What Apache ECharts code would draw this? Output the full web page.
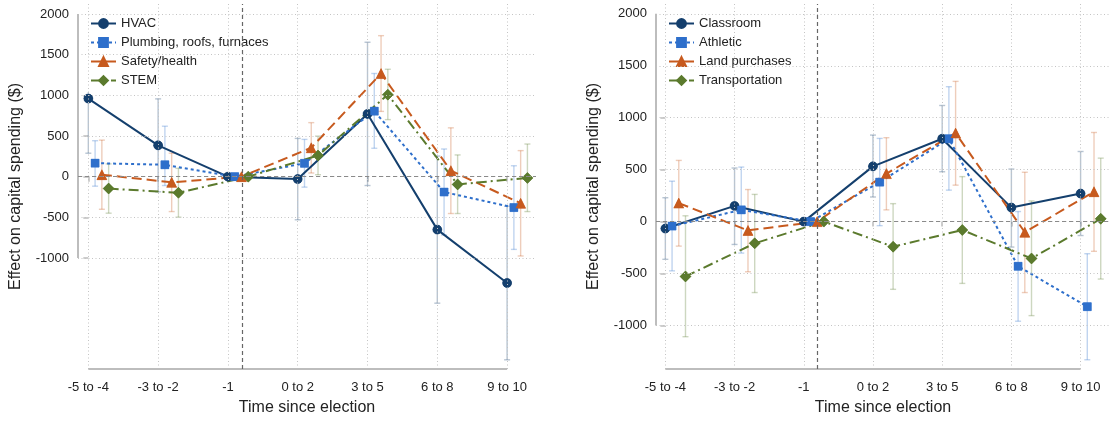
<!DOCTYPE html>
<html>
<head>
<meta charset="utf-8">
<script src="https://cdn.jsdelivr.net/npm/echarts@6/dist/echarts.min.js"></script>
<style>html,body{margin:0;padding:0;background:#fff}#c{width:1110px;height:421px}</style>
</head>
<body>
<div id="c"></div>
<script>
// ---- data ----
const categories = ['-5 to -4', '-3 to -2', '-1', '0 to 2', '3 to 5', '6 to 8', '9 to 10'];
const yTicks = [-1000, -500, 0, 500, 1000, 1500, 2000];

// Left panel
const hvac      = [960, 385, 0, -30, 771, -651, -1307];
const hvacLo    = [288, -186, 0, -530, -109, -1555, -2251];
const hvacHi    = [1640, 956, 0, 470, 1652, 253, -363];
const plumbing   = [166, 146, 0, 164, 805, -189, -380];
const plumbingLo = [-117, -109, 0, -129, 349, -717, -894];
const plumbingHi = [442, 620, 0, 458, 1268, 340, 134];
const safety   = [24, -70, 0, 355, 1267, 74, -327];
const safetyLo = [-401, -429, 0, 45, 802, -453, -975];
const safetyHi = [449, 288, 0, 664, 1733, 600, 320];
const stem   = [-146, -198, 0, 260, 1008, -95, -15];
const stemLo = [-449, -498, 0, 24, 701, -453, -429];
const stemHi = [157, 102, 0, 498, 1320, 267, 401];

// Right panel
const classroom   = [-67, 151, 0, 532, 798, 135, 270];
const classroomLo = [-363, -220, 0, 237, 480, -245, -134];
const classroomHi = [230, 516, 0, 833, 1118, 506, 675];
const athletic   = [-43, 113, 0, 380, 798, -430, -819];
const athleticLo = [-474, -303, 0, -39, 303, -959, -1330];
const athleticHi = [389, 525, 0, 801, 1299, 97, -309];
const land   = [178, -85, 0, 462, 852, -102, 288];
const landLo = [-236, -483, 0, 113, 351, -683, -286];
const landHi = [589, 309, 0, 808, 1350, 475, 858];
const transport   = [-528, -209, 0, -242, -81, -355, 27];
const transportLo = [-1108, -683, 0, -652, -595, -905, -553];
const transportHi = [56, 262, 0, 173, 433, 199, 611];

// ---- styling ----
const NAVY = '#143f6d', BLUE = '#2e6fcb', ORANGE = '#c75a1e', OLIVE = '#5b7a2d';
const FONT = 'Liberation Sans, Arial, Helvetica, sans-serif';
const DODGE = 0.097;
const refX = 2.2;       // election timing reference line position
const panels = [
  { xmin: -0.148, xmax: 6.414, ymin: -2364, ymax: 2122, left: 78, width: 458 },
  { xmin: -0.135, xmax: 6.425, ymin: -1419, ymax: 2095, left: 656, width: 457 }
];
const seriesDefs = [
  [
    { name: 'HVAC', v: hvac, lo: hvacLo, hi: hvacHi, color: NAVY, symbol: 'circle', size: 9, dash: 'solid' },
    { name: 'Plumbing, roofs, furnaces', v: plumbing, lo: plumbingLo, hi: plumbingHi, color: BLUE, symbol: 'rect', size: 8, dash: [3, 3] },
    { name: 'Safety/health', v: safety, lo: safetyLo, hi: safetyHi, color: ORANGE, symbol: 'triangle', size: 10, dash: [10, 5] },
    { name: 'STEM', v: stem, lo: stemLo, hi: stemHi, color: OLIVE, symbol: 'diamond', size: 11, dash: [10, 4, 2, 4] }
  ],
  [
    { name: 'Classroom', v: classroom, lo: classroomLo, hi: classroomHi, color: NAVY, symbol: 'circle', size: 9, dash: 'solid' },
    { name: 'Athletic', v: athletic, lo: athleticLo, hi: athleticHi, color: BLUE, symbol: 'rect', size: 8, dash: [3, 3] },
    { name: 'Land purchases', v: land, lo: landLo, hi: landHi, color: ORANGE, symbol: 'triangle', size: 10, dash: [10, 5] },
    { name: 'Transportation', v: transport, lo: transportLo, hi: transportHi, color: OLIVE, symbol: 'diamond', size: 11, dash: [10, 4, 2, 4] }
  ]
];

function hexA(hex, a) {
  const n = parseInt(hex.slice(1), 16);
  return 'rgba(' + (n >> 16) + ',' + ((n >> 8) & 255) + ',' + (n & 255) + ',' + a + ')';
}

const grids = [], xAxes = [], yAxes = [], series = [], legends = [];
const catIdx = categories.map((c, i) => i);

panels.forEach((p, pi) => {
  grids.push({ left: p.left, width: p.width, top: 4, height: 369 });
  xAxes.push({
    type: 'value', gridIndex: pi, min: p.xmin, max: p.xmax,
    axisLine: { show: false }, splitLine: { show: false },
    axisTick: { show: true, customValues: catIdx, length: 5, lineStyle: { color: '#bdbdbd', width: 1.5 } },
    axisLabel: { customValues: catIdx, formatter: v => categories[Math.round(v)], fontFamily: FONT, fontSize: 13, color: '#222', margin: 12 },
    name: 'Time since election', nameLocation: 'middle', nameGap: 31,
    nameTextStyle: { fontFamily: FONT, fontSize: 16, color: '#222' }
  });
  yAxes.push({
    type: 'value', gridIndex: pi, min: p.ymin, max: p.ymax,
    axisLine: { show: false }, splitLine: { show: false },
    axisTick: { show: true, customValues: yTicks, length: 5, lineStyle: { color: '#bdbdbd', width: 1.5 } },
    axisLabel: { customValues: yTicks, formatter: v => String(v), fontFamily: FONT, fontSize: 13, color: '#222', margin: 9 },
    name: 'Effect on capital spending ($)', nameLocation: 'middle', nameGap: 54,
    nameTextStyle: { fontFamily: FONT, fontSize: 16, color: '#222' }
  });

  // helper series: gridlines, axis lines, reference lines
  const gridMarks = [];
  yTicks.forEach(t => gridMarks.push([{ coord: [p.xmin, t] }, { coord: [p.xmax, t] }]));
  catIdx.forEach(c => gridMarks.push([{ coord: [c, p.ymin] }, { coord: [c, p.ymax] }]));
  series.push({
    type: 'line', xAxisIndex: pi, yAxisIndex: pi, data: [[p.xmin, p.ymin]], symbol: 'none',
    lineStyle: { width: 0 }, silent: true, z: 0, legendHoverLink: false,
    markLine: { silent: true, symbol: 'none', label: { show: false }, animation: false,
      lineStyle: { color: '#c4c4c4', type: [1, 2.5], width: 1 }, data: gridMarks }
  });
  series.push({
    type: 'line', xAxisIndex: pi, yAxisIndex: pi, data: [[p.xmin, p.ymin]], symbol: 'none',
    lineStyle: { width: 0 }, silent: true, z: 1,
    markLine: { silent: true, symbol: 'none', label: { show: false }, animation: false,
      data: [
        [{ coord: [p.xmin, yTicks[yTicks.length - 1]], lineStyle: { color: '#bdbdbd', width: 2, type: 'solid' } },
         { coord: [p.xmin, yTicks[0]] }],
        [{ coord: [0, p.ymin], lineStyle: { color: '#bdbdbd', width: 2, type: 'solid' } },
         { coord: [categories.length - 1, p.ymin] }],
        [{ coord: [p.xmin, 0], lineStyle: { color: '#8a8a8a', width: 1.2, type: [4, 3] } },
         { coord: [p.xmax, 0] }],
        [{ coord: [refX, p.ymin], lineStyle: { color: '#666', width: 1.2, type: [4, 3] } },
         { coord: [refX, p.ymax] }]
      ] }
  });

  const legendNames = [];
  seriesDefs[pi].forEach((s, si) => {
    const xs = catIdx.map(c => c + si * DODGE);
    const pts = xs.map((x, i) => [x, s.v[i]]);
    const eb = [];
    xs.forEach((x, i) => { if (s.lo[i] !== s.hi[i]) eb.push([x, s.lo[i], s.hi[i]]); });
    const ebColor = hexA(s.color, 0.3);
    series.push({
      type: 'custom', xAxisIndex: pi, yAxisIndex: pi, z: 2, silent: true,
      data: eb, encode: { x: 0, y: [1, 2] },
      renderItem: (params, api) => {
        const x = api.value(0);
        const a = api.coord([x, api.value(2)]);
        const b = api.coord([x, api.value(1)]);
        const w = 3;
        const st = { stroke: ebColor, lineWidth: 1.4 };
        return { type: 'group', children: [
          { type: 'line', shape: { x1: a[0], y1: a[1], x2: b[0], y2: b[1] }, style: st },
          { type: 'line', shape: { x1: a[0] - w, y1: a[1], x2: a[0] + w, y2: a[1] }, style: st },
          { type: 'line', shape: { x1: b[0] - w, y1: b[1], x2: b[0] + w, y2: b[1] }, style: st }
        ] };
      }
    });
    series.push({
      name: s.name, type: 'line', xAxisIndex: pi, yAxisIndex: pi, z: 3,
      data: pts,
      symbol: s.symbol, symbolSize: s.size, showAllSymbol: true,
      itemStyle: { color: s.color, borderColor: s.color, borderWidth: 0.5, opacity: 1 },
      lineStyle: { color: s.color, width: 2, type: s.dash },
      emphasis: { disabled: true },
      animation: false
    });
    // solid marker overlay
    series.push({
      type: 'scatter', xAxisIndex: pi, yAxisIndex: pi, z: 4, silent: true,
      data: pts, symbol: s.symbol, symbolSize: s.size,
      itemStyle: { color: s.color, opacity: 1 },
      emphasis: { disabled: true }, animation: false
    });
    legendNames.push(s.name);
  });
  legends.push({
    data: legendNames, orient: 'vertical', left: p.left + 2, top: 10,
    itemWidth: 25, itemHeight: 11, itemGap: 6, backgroundColor: '#fff',
    padding: [7, 14, 5, 10], selectedMode: false,
    textStyle: { fontFamily: FONT, fontSize: 13, color: '#222' }
  });
});

const chart = echarts.init(document.getElementById('c'), null, { renderer: 'canvas' });
chart.setOption({
  animation: false,
  backgroundColor: '#fff',
  grid: grids, xAxis: xAxes, yAxis: yAxes, legend: legends, series: series
});
</script>
</body>
</html>
